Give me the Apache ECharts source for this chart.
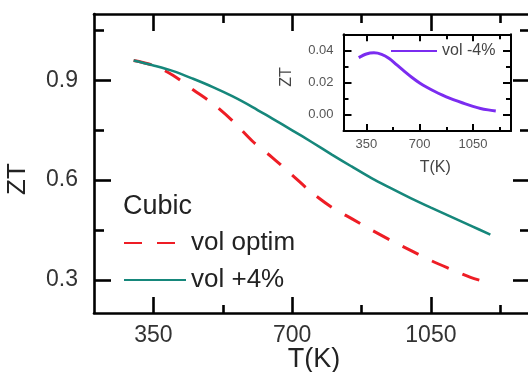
<!DOCTYPE html>
<html>
<head>
<meta charset="utf-8">
<script src="https://cdn.jsdelivr.net/npm/echarts@6/dist/echarts.min.js"></script>
<style>
html,body{margin:0;padding:0;background:#fff;}
#chart{width:528px;height:372px;}
</style>
</head>
<body>
<div id="chart"></div>
<script>
// ---- data ----
var temps = [300,350,400,450,500,550,600,650,700,750,800,850,900,950,1000,1050,1100,1150,1200];
var volOptim = [0.960,0.945,0.915,0.872,0.830,0.778,0.717,0.668,0.615,0.562,0.518,0.484,0.450,0.418,0.388,0.358,0.332,0.307,0.290];
var volPlus4 = [0.960,0.945,0.928,0.905,0.880,0.852,0.820,0.785,0.750,0.714,0.677,0.641,0.606,0.575,0.545,0.517,0.490,0.463,0.436];
var volMinus4 = [0.0355,0.0378,0.0385,0.0376,0.0350,0.0310,0.0270,0.0232,0.0198,0.0170,0.0145,0.0123,0.0103,0.0085,0.0068,0.0053,0.0040,0.0031,0.0024];
var xMajor = [350,700,1050];
var xMinor = [525,875,1225];
var yMajor = [0.3,0.6,0.9];
var yMinor = [0.45,0.75,1.05];
var insetYMajor = [0.00,0.02,0.04];
var insetYMinor = [0.01,0.03];
var seriesNames = ['vol optim','vol +4%','vol -4%'];

function pairs(xs, ys){ return xs.map(function(x,i){ return [x, ys[i]]; }); }

var FONT = 'Liberation Sans, Arial, sans-serif';
var chart = echarts.init(document.getElementById('chart'), null, {renderer:'canvas'});

function xAx(grid, vals, len, pos, showLine, labels, lw, extra){
  var a = {
    type:'value', gridIndex:grid, min:200, max:1300, position:pos,
    axisLine:{show:showLine, onZero:false, lineStyle:{color:'#000', width:lw}},
    axisTick:{show:true, inside:true, length:len, customValues:vals, lineStyle:{color:'#000', width:lw}},
    axisLabel:{show:false},
    splitLine:{show:false}
  };
  if (labels) a.axisLabel = labels;
  if (extra) for (var k in extra) a[k] = extra[k];
  return a;
}
function yAx(grid, mn, mx, vals, len, pos, showLine, labels, lw){
  var a = {
    type:'value', gridIndex:grid, min:mn, max:mx, position:pos,
    axisLine:{show:showLine, onZero:false, lineStyle:{color:'#000', width:lw}},
    axisTick:{show:true, inside:true, length:len, customValues:vals, lineStyle:{color:'#000', width:lw}},
    axisLabel:{show:false},
    splitLine:{show:false}
  };
  if (labels) a.axisLabel = labels;
  return a;
}
function plain(v){ return String(v); }

var option = {
  animation:false,
  backgroundColor:'#fff',
  grid:[
    {left:94, top:14, right:-2, bottom:59, outerBoundsMode:'none', containLabel:false},
    {left:343.5, top:34.3, right:17, bottom:241, outerBoundsMode:'none', containLabel:false,
     show:true, backgroundColor:'#fff', borderWidth:0}
  ],
  xAxis:[
    xAx(0, xMajor, 16, 'bottom', true,
      {show:true, customValues:xMajor, fontSize:23, color:'#333', fontFamily:FONT, margin:11, formatter:plain}, 2.6),
    xAx(0, xMinor, 8, 'bottom', false, null, 2.6),
    xAx(0, xMajor, 17, 'top', true, null, 2.6),
    xAx(0, xMinor, 9, 'top', false, null, 2.6),
    xAx(1, xMajor, 7, 'bottom', true,
      {show:true, customValues:xMajor, fontSize:13, color:'#555', fontFamily:FONT, margin:7, formatter:plain}, 2,
      {name:'T(K)', nameLocation:'middle', nameGap:29, nameTextStyle:{fontSize:16, color:'#444', fontFamily:FONT, padding:[0,0,0,16]}}),
    xAx(1, xMinor, 4, 'bottom', false, null, 2),
    xAx(1, xMajor, 7, 'top', true, null, 2),
    xAx(1, xMinor, 5, 'top', false, null, 2)
  ],
  yAxis:[
    yAx(0, 0.2, 1.1, yMajor, 17, 'left', true,
      {show:true, customValues:yMajor, fontSize:23, color:'#333', fontFamily:FONT, margin:16,
       formatter:function(v){ return v.toFixed(1); }}, 2.6),
    yAx(0, 0.2, 1.1, yMinor, 10, 'left', false, null, 2.6),
    yAx(0, 0.2, 1.1, yMajor, 17, 'right', true, null, 2.6),
    yAx(0, 0.2, 1.1, yMinor, 10, 'right', false, null, 2.6),
    yAx(1, -0.01, 0.05, insetYMajor, 8, 'left', true,
      {show:true, customValues:insetYMajor, fontSize:13, color:'#555', fontFamily:FONT, margin:10,
       formatter:function(v){ return v.toFixed(2); }}, 2),
    yAx(1, -0.01, 0.05, insetYMinor, 5, 'left', false, null, 2),
    yAx(1, -0.01, 0.05, insetYMajor, 8, 'right', true, null, 2),
    yAx(1, -0.01, 0.05, insetYMinor, 5, 'right', false, null, 2)
  ],
  legend:[
    {
      data:[seriesNames[0], seriesNames[1]], orient:'vertical', left:123, top:228, padding:0,
      itemWidth:62, itemHeight:14, itemGap:7,
      itemStyle:{opacity:0},
      textStyle:{fontSize:26, lineHeight:30, color:'#222', fontFamily:FONT},
      selectedMode:false
    },
    {
      data:[seriesNames[2]], orient:'vertical', left:390, top:42, padding:0,
      itemWidth:46, itemHeight:10, itemGap:4,
      itemStyle:{opacity:0},
      textStyle:{fontSize:16, lineHeight:18, color:'#444', fontFamily:FONT},
      selectedMode:false
    }
  ],
  graphic:[
    {type:'text', left:123, top:193, style:{text:'Cubic', font:'27px ' + FONT, fill:'#222'}},
    {type:'text', x:314, y:360, style:{text:'T(K)', font:'27px ' + FONT, fill:'#222', align:'center', verticalAlign:'middle'}},
    {type:'text', x:18, y:179, rotation:Math.PI/2, style:{text:'ZT', font:'26px ' + FONT, fill:'#222', align:'center', verticalAlign:'middle'}},
    {type:'text', x:287, y:77, rotation:Math.PI/2, style:{text:'ZT', font:'16px ' + FONT, fill:'#444', align:'center', verticalAlign:'middle'}}
  ],
  series:[
    {name:seriesNames[0], type:'line', xAxisIndex:0, yAxisIndex:0, data:pairs(temps, volOptim),
      smooth:0.3, symbol:'none', lineStyle:{color:'#ee1d25', width:3, type:[18,15]}, itemStyle:{color:'#ee1d25'}, z:2},
    {name:seriesNames[1], type:'line', xAxisIndex:0, yAxisIndex:0, data:pairs(temps, volPlus4),
      smooth:0.3, symbol:'none', lineStyle:{color:'#16877b', width:2.6}, itemStyle:{color:'#16877b'}, z:3},
    {name:seriesNames[2], type:'line', xAxisIndex:4, yAxisIndex:4, data:pairs(temps, volMinus4),
      smooth:0.3, symbol:'none', lineStyle:{color:'#7b2cf0', width:3}, itemStyle:{color:'#7b2cf0'}, z:3}
  ]
};
chart.setOption(option);
</script>
</body>
</html>
